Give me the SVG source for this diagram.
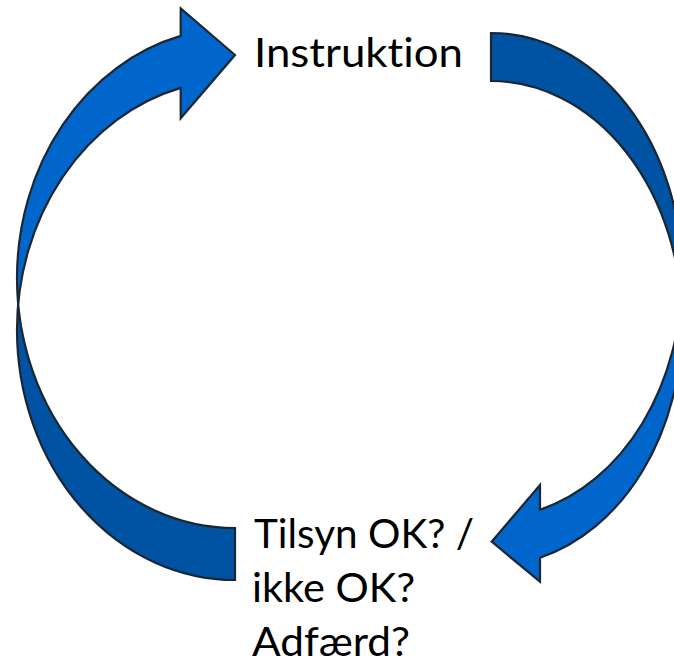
<svg xmlns="http://www.w3.org/2000/svg" width="674" height="668" viewBox="0 0 674 668">
  <style>
    .front { fill: #0066CC; stroke: none; }
    .back { fill: #0052A3; stroke: none; }
    .outline { fill: none; stroke: #1b2633; stroke-width: 2.2; stroke-linejoin: miter; }
    .label { font-family: Lato, "Liberation Sans", sans-serif; font-size: 41px; fill: #000000; font-variant-ligatures: none; font-feature-settings: "liga" 0, "clig" 0; }
  </style>
  <rect width="674" height="668" fill="#ffffff"/>
  <g id="connectors">
    <g id="arrow-left">
      <path class="back" d="M 17,330 A 218 250 0 0 0 235,580 L 235,528 A 218 250 0 0 1 17,278 Z"/>
      <path class="front" d="M 17,278 A 218 250 0 0 1 180.7,35.9 L 180.7,8.3 L 235,55 L 180.7,118.3 L 180.7,87.9 A 218 250 0 0 0 17,330 Z"/>
      <path class="outline" d="M 17,330 A 218 250 0 0 0 235,580 L 235,528 A 218 250 0 0 1 17,278 A 218 250 0 0 1 180.7,35.9 L 180.7,8.3 L 235,55 L 180.7,118.3 L 180.7,87.9 A 218 250 0 0 0 17,330 Z"/>
    </g>
    <g id="arrow-right">
      <path class="back" d="M 682,275.4 A 191 242.4 0 0 0 491,33 L 491,81 A 191 242.4 0 0 1 682,323.4 Z"/>
      <path class="front" d="M 682,323.4 A 191 242.4 0 0 1 540,557.7 L 540,581.7 L 491.7,541.7 L 540,485 L 540,509.7 A 191 242.4 0 0 0 682,275.4 Z"/>
      <path class="outline" d="M 682,323.4 A 191 242.4 0 0 1 540,557.7 L 540,581.7 L 491.7,541.7 L 540,485 L 540,509.7 A 191 242.4 0 0 0 682,275.4 A 191 242.4 0 0 0 491,33 L 491,81 A 191 242.4 0 0 1 682,323.4 Z"/>
    </g>
  </g>
  <g id="node-instruktion">
    <text class="label" x="254" y="66.7" textLength="209" lengthAdjust="spacingAndGlyphs">Instruktion</text>
  </g>
  <g id="node-tilsyn">
    <text class="label" x="254" y="547.5" textLength="220" lengthAdjust="spacingAndGlyphs">Tilsyn OK? /</text>
    <text class="label" x="252" y="601.5" textLength="163" lengthAdjust="spacingAndGlyphs">ikke OK?</text>
    <text class="label" x="252" y="656" textLength="158" lengthAdjust="spacingAndGlyphs">Adfærd?</text>
  </g>
</svg>
